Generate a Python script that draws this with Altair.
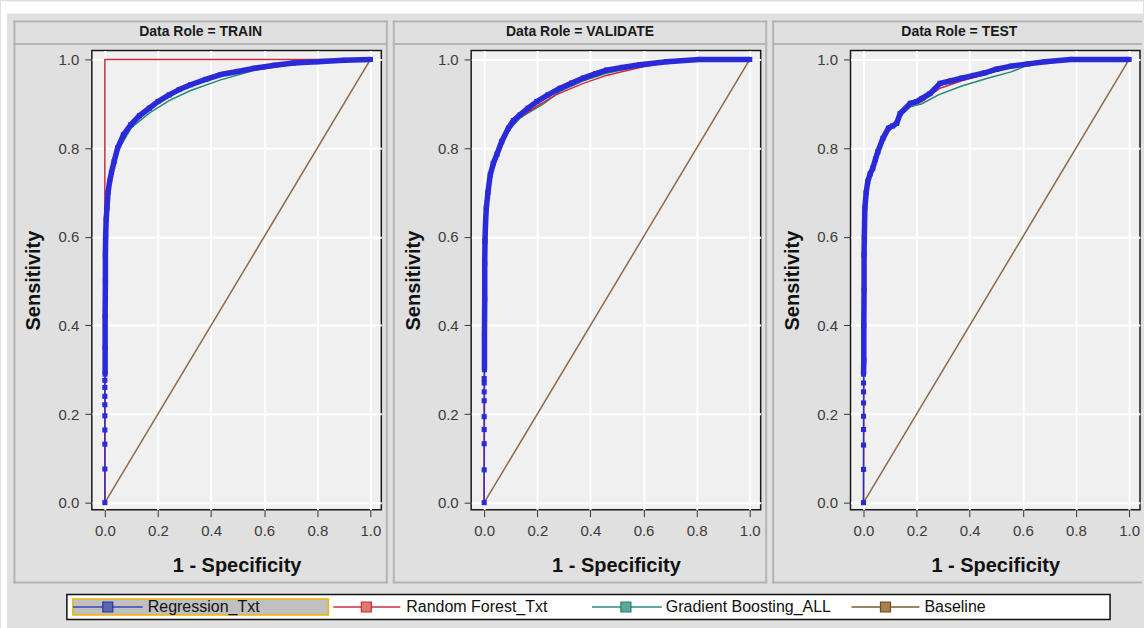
import altair as alt
import pandas as pd

ROLES = ["TRAIN", "VALIDATE", "TEST"]
SERIES = ["Regression_Txt", "Random Forest_Txt", "Gradient Boosting_ALL", "Baseline"]
TICKS = [0.0, 0.2, 0.4, 0.6, 0.8, 1.0]

# (1 - specificity, sensitivity)
train_regression = [
    (0, 0), (0, 0.076), (0, 0.132), (0, 0.164), (0, 0.196), (0, 0.221), (0, 0.240), (0, 0.260), (0, 0.276),
    (0.001, 0.29), (0.001, 0.35), (0.001, 0.42), (0.002, 0.50), (0.002, 0.56), (0.003, 0.60), (0.005, 0.64),
    (0.008, 0.665), (0.012, 0.70), (0.018, 0.725), (0.025, 0.745), (0.035, 0.77), (0.048, 0.80), (0.07, 0.83),
    (0.098, 0.853), (0.13, 0.873), (0.167, 0.89), (0.2, 0.905), (0.242, 0.92), (0.28, 0.932), (0.323, 0.943),
    (0.38, 0.955), (0.436, 0.966), (0.5, 0.973), (0.56, 0.98), (0.64, 0.987), (0.71, 0.992), (0.8, 0.995),
    (0.9, 0.998), (1.0, 1.0),
]
train_forest = [(0, 0), (0, 1.0), (1.0, 1.0)]
train_boosting = [
    (0, 0), (0, 0.3), (0.002, 0.55), (0.005, 0.64), (0.01, 0.68), (0.025, 0.74), (0.05, 0.795), (0.1, 0.846),
    (0.167, 0.879), (0.242, 0.907), (0.323, 0.93), (0.436, 0.954), (0.56, 0.975), (0.71, 0.99), (0.9, 0.998),
    (1.0, 1.0),
]

validate_regression = [
    (0, 0), (0, 0.074), (0, 0.133), (0, 0.165), (0, 0.194), (0, 0.23), (0, 0.25), (0, 0.27), (0, 0.28),
    (0.001, 0.30), (0.001, 0.38), (0.002, 0.46), (0.002, 0.54), (0.003, 0.59), (0.005, 0.63), (0.008, 0.665),
    (0.014, 0.70), (0.023, 0.74), (0.034, 0.765), (0.048, 0.786), (0.066, 0.815), (0.091, 0.845), (0.11, 0.862),
    (0.135, 0.875), (0.165, 0.89), (0.198, 0.905), (0.24, 0.92), (0.286, 0.935), (0.33, 0.947), (0.373, 0.958),
    (0.42, 0.968), (0.461, 0.976), (0.52, 0.982), (0.586, 0.988), (0.687, 0.995), (0.81, 1.0), (1.0, 1.0),
]
validate_forest = [
    (0, 0), (0.002, 0.55), (0.008, 0.66), (0.023, 0.735), (0.05, 0.783), (0.09, 0.84), (0.135, 0.87),
    (0.2, 0.895), (0.27, 0.92), (0.373, 0.946), (0.461, 0.964), (0.51, 0.971), (0.586, 0.982), (0.687, 0.993),
    (0.81, 1.0), (1.0, 1.0),
]
validate_boosting = [
    (0, 0), (0.002, 0.55), (0.008, 0.66), (0.023, 0.735), (0.05, 0.78), (0.09, 0.838), (0.135, 0.868),
    (0.223, 0.9), (0.286, 0.928), (0.373, 0.952), (0.461, 0.969), (0.586, 0.985), (0.687, 0.994), (0.81, 1.0),
    (1.0, 1.0),
]

test_regression = [
    (0, 0), (0, 0.075), (0, 0.13), (0, 0.165), (0, 0.195), (0, 0.225), (0, 0.25), (0, 0.27), (0, 0.29),
    (0.001, 0.32), (0.001, 0.40), (0.002, 0.48), (0.002, 0.56), (0.003, 0.60), (0.005, 0.665), (0.01, 0.70),
    (0.016, 0.725), (0.025, 0.742), (0.035, 0.755), (0.045, 0.775), (0.054, 0.792), (0.073, 0.822),
    (0.094, 0.845), (0.11, 0.85), (0.125, 0.856), (0.138, 0.878), (0.176, 0.901), (0.2, 0.905), (0.22, 0.912),
    (0.25, 0.923), (0.288, 0.946), (0.33, 0.952), (0.37, 0.958), (0.415, 0.964), (0.458, 0.97), (0.5, 0.978),
    (0.556, 0.985), (0.62, 0.99), (0.683, 0.995), (0.78, 1.0), (1.0, 1.0),
]
test_forest = [
    (0, 0), (0.002, 0.56), (0.005, 0.66), (0.016, 0.722), (0.035, 0.752), (0.054, 0.79), (0.094, 0.843),
    (0.125, 0.855), (0.138, 0.875), (0.176, 0.897), (0.22, 0.905), (0.288, 0.935), (0.37, 0.952),
    (0.458, 0.966), (0.556, 0.983), (0.62, 0.99), (0.7, 0.997), (0.78, 1.0), (1.0, 1.0),
]
test_boosting = [
    (0, 0), (0.002, 0.56), (0.005, 0.66), (0.016, 0.72), (0.035, 0.75), (0.054, 0.788), (0.094, 0.84),
    (0.125, 0.852), (0.138, 0.872), (0.176, 0.893), (0.22, 0.9), (0.282, 0.92), (0.37, 0.94), (0.47, 0.958),
    (0.556, 0.972), (0.61, 0.985), (0.7, 0.996), (0.78, 1.0), (1.0, 1.0),
]

baseline = [(0, 0), (1.0, 1.0)]

CURVES = {
    "TRAIN": [train_regression, train_forest, train_boosting, baseline],
    "VALIDATE": [validate_regression, validate_forest, validate_boosting, baseline],
    "TEST": [test_regression, test_forest, test_boosting, baseline],
}

# ---- styles ----
LINE_COLORS = {
    "Regression_Txt": "#2a2ad8",
    "Random Forest_Txt": "#cc2a3c",
    "Gradient Boosting_ALL": "#1f8a78",
    "Baseline": "#8b6a48",
}
LEG_LINE = {"Regression_Txt": "#3a46b4", "Random Forest_Txt": "#c83040",
            "Gradient Boosting_ALL": "#2a8a80", "Baseline": "#7a5a30"}
LEG_FILL = {"Regression_Txt": "#5a68aa", "Random Forest_Txt": "#e07a70",
            "Gradient Boosting_ALL": "#5aa89c", "Baseline": "#a8804c"}
LEG_EDGE = {"Regression_Txt": "#2a30b0", "Random Forest_Txt": "#c03030",
            "Gradient Boosting_ALL": "#2a7a70", "Baseline": "#6a4a20"}
# legend layout (pixels, relative to the first panel's plot area)
LEG_LAYOUT = [(-19, 51, 16, 56), (242, 309, 275, 315), (501, 571, 535, 575), (761, 829, 795, 834)]

W, H = 290, 460
FONT = "Liberation Sans"
FRAME = "#b4b4b4"
PAGE_BG = "#e0e0e0"

rows = []
for role in ROLES:
    for name, pts in zip(SERIES, CURVES[role]):
        for i, (fx, ty) in enumerate(pts):
            rows.append({"role": role, "series": name, "idx": i, "fpr": fx, "tpr": ty})
df = pd.DataFrame(rows)
one = pd.DataFrame({"k": [0]})

xscale = alt.Scale(domain=[-0.049, 1.041], nice=False, zero=False)
yscale = alt.Scale(domain=[-0.0158, 1.0203], nice=False, zero=False)
x_enc = alt.X("fpr:Q", scale=xscale, title="1 - Specificity",
              axis=alt.Axis(values=TICKS, format=".1f", labelPadding=7, titleX=W / 2, titleY=56,
                            titleAlign="center", titleBaseline="middle"))
y_enc = alt.Y("tpr:Q", scale=yscale, title="Sensitivity",
              axis=alt.Axis(values=TICKS, format=".1f", labelPadding=6, titleX=-58, titleY=H / 2,
                            titleAngle=270, titleAlign="center", titleBaseline="middle"))


def box(x0, x1, y0, y1, color):
    return alt.Chart(one).mark_rect(color=color).encode(
        x=alt.value(x0), x2=alt.value(x1), y=alt.value(y0), y2=alt.value(y1))


def hrule(x0, x1, y, color=FRAME, w=2):
    return alt.Chart(one).mark_rule(color=color, strokeWidth=w).encode(
        x=alt.value(x0), x2=alt.value(x1), y=alt.value(y))


def vrule(x, y0, y1, color=FRAME, w=2):
    return alt.Chart(one).mark_rule(color=color, strokeWidth=w).encode(
        x=alt.value(x), y=alt.value(y0), y2=alt.value(y1))


def panel(role, first=False, last=False):
    layers = []
    if first:
        layers.append(box(1049, 1053, -37, 579, PAGE_BG))
        layers.append(box(-91, 1053, -49, -37, "white"))
        layers.append(box(-91, -85, -49, 579, "white"))
    xr = 292 if last else 296.5
    layers += [
        vrule(-77.5, -30, 534),
        hrule(-78.5, xr, -29),
        hrule(-78.5, xr, -6.5),
        hrule(-78.5, xr, 533),
    ]
    if not last:
        layers.append(vrule(295.5, -30, 534))
    layers.append(alt.Chart(one).mark_text(font=FONT, fontSize=14, fontWeight="bold", color="#1a1a1a",
                                           align="center", baseline="middle").encode(
        x=alt.value(109), y=alt.value(-18), text=alt.value(f"Data Role = {role}")))

    base = alt.Chart(df).transform_filter(alt.datum.role == role)
    for name, w in [("Baseline", 1.5), ("Gradient Boosting_ALL", 1.5), ("Random Forest_Txt", 1.5),
                    ("Regression_Txt", 1.2)]:
        layers.append(base.transform_filter(alt.datum.series == name).mark_line(
            color=LINE_COLORS[name], strokeWidth=w).encode(x=x_enc, y=y_enc, order="idx:Q"))
    layers.append(base.transform_filter(
        (alt.datum.series == "Regression_Txt") & (alt.datum.tpr >= 0.285)).mark_line(
        color=LINE_COLORS["Regression_Txt"], strokeWidth=5.5, strokeJoin="round").encode(
        x=x_enc, y=y_enc, order="idx:Q"))
    layers.append(base.transform_filter(alt.datum.series == "Regression_Txt").mark_point(
        shape="square", filled=True, size=26, opacity=1, color=LINE_COLORS["Regression_Txt"]).encode(
        x=x_enc, y=y_enc))

    if first:
        yc = 557.5
        layers.append(alt.Chart(one).mark_rect(fill="white", stroke="#111", strokeWidth=1.5).encode(
            x=alt.value(-25), x2=alt.value(1020), y=alt.value(545), y2=alt.value(570)))
        layers.append(alt.Chart(one).mark_rect(fill="#c0c0c0", stroke="#f2b400", strokeWidth=1.5).encode(
            x=alt.value(-19), x2=alt.value(237), y=alt.value(549.5), y2=alt.value(565.5)))
        for name, (x0, x1, xs, xt) in zip(SERIES, LEG_LAYOUT):
            layers.append(hrule(x0, x1, yc, color=LEG_LINE[name], w=1.5))
            layers.append(alt.Chart(one).mark_square(size=100, fill=LEG_FILL[name], stroke=LEG_EDGE[name],
                                                     strokeWidth=1.2, opacity=1).encode(
                x=alt.value(xs), y=alt.value(yc)))
            layers.append(alt.Chart(one).mark_text(font=FONT, fontSize=16, color="#111", align="left",
                                                   baseline="middle").encode(
                x=alt.value(xt), y=alt.value(yc + 0.5), text=alt.value(name)))
    return alt.layer(*layers).properties(width=W, height=H)


chart = alt.hconcat(
    panel("TRAIN", first=True), panel("VALIDATE"), panel("TEST", last=True),
    spacing=90, bounds="flush",
).properties(
    padding=0, background=PAGE_BG,
).configure_view(
    fill="#f0f0f0", stroke="#1a1a1a", strokeWidth=1.5,
).configure_axis(
    domain=False, grid=True, gridColor="#ffffff", gridWidth=2, tickColor="#333333", tickSize=7,
    labelFont=FONT, labelFontSize=15, labelColor="#3c3c3c",
    titleFont=FONT, titleFontSize=20, titleFontWeight="bold", titleColor="#111111",
)

chart.save("out.html", embed_options={"renderer": "svg", "actions": False})
